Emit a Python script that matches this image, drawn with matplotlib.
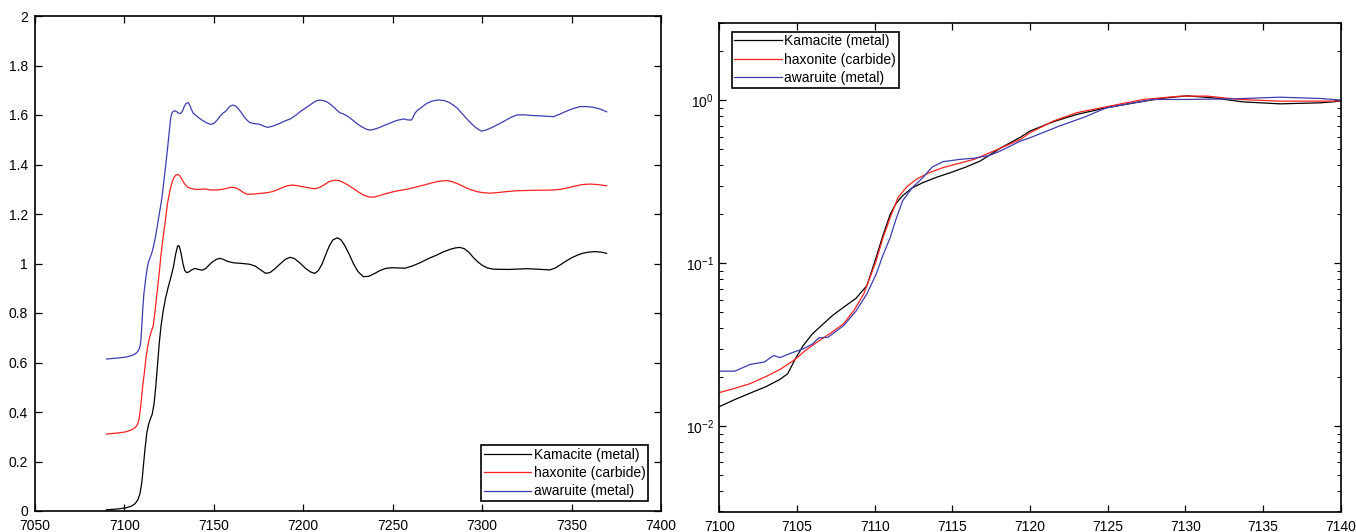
import matplotlib
matplotlib.use("Agg")
import matplotlib.pyplot as plt
from matplotlib.ticker import ScalarFormatter
from matplotlib import font_manager

# ---------------- data ----------------
series_names = ["Kamacite (metal)", "haxonite (carbide)", "awaruite (metal)"]
series_colors = ["#000000", "#ff2020", "#3c3cb0"]

# Left panel: stacked spectra (values as plotted)
kam_x = [7090, 7096, 7101, 7104, 7106, 7107.5, 7108.7, 7109.8, 7110.7, 7111.5, 7112.5, 7113.5, 7114.5,
         7115.5, 7116.5, 7117.5, 7118.5, 7119.5, 7120.5, 7121.7, 7123, 7124.5, 7126, 7127.5, 7128.7,
         7129.8, 7130.7, 7131.7, 7132.7, 7133.7, 7134.8, 7136, 7137.5, 7139.5, 7141.5, 7143.5, 7145.5,
         7147.5, 7149.5, 7151.5, 7153.5, 7155.5, 7157.5, 7160.9, 7166, 7170, 7173, 7176, 7179, 7181.5,
         7184, 7187, 7190, 7192.6, 7195, 7198, 7201, 7204, 7206.5, 7208.5, 7210.5, 7212.5, 7214.5,
         7216.5, 7219, 7221, 7223, 7225.5, 7228, 7230.5, 7233.5, 7236.5, 7239.5, 7243, 7246, 7249.4,
         7253, 7256.9, 7261, 7265.3, 7270, 7274.6, 7278, 7282, 7285, 7287.5, 7290, 7292.5, 7295,
         7297.5, 7300, 7303, 7306.2, 7315, 7324.9, 7331, 7337.9, 7341, 7344, 7347, 7350, 7353, 7356,
         7359.5, 7363.1, 7366.5, 7369.6]
kam_y = [0.005, 0.008, 0.013, 0.02, 0.03, 0.045, 0.07, 0.12, 0.19, 0.25, 0.315, 0.35, 0.372,
         0.39, 0.43, 0.50, 0.59, 0.68, 0.75, 0.81, 0.86, 0.905, 0.945, 0.99, 1.04,
         1.072, 1.07, 1.04, 1.0, 0.972, 0.963, 0.966, 0.974, 0.98, 0.976, 0.973, 0.98,
         0.995, 1.008, 1.017, 1.021, 1.016, 1.009, 1.003, 1.0, 0.997, 0.99, 0.975, 0.96, 0.964,
         0.978, 0.998, 1.017, 1.025, 1.02, 1.003, 0.982, 0.966, 0.96, 0.972, 0.998, 1.035, 1.07,
         1.095, 1.104, 1.096, 1.075, 1.04, 1.0, 0.968, 0.947, 0.948, 0.958, 0.972, 0.98, 0.983,
         0.982, 0.981, 0.99, 1.003, 1.02, 1.034, 1.046, 1.057, 1.063, 1.065, 1.06, 1.046, 1.025,
         1.007, 0.993, 0.982, 0.977, 0.976, 0.979, 0.977, 0.974, 0.982, 0.996, 1.01, 1.023, 1.033, 1.041,
         1.046, 1.048, 1.046, 1.041]

hax_x = [7090, 7096, 7101, 7104, 7106, 7107.2, 7108.2, 7108.9, 7109.6, 7110.3, 7111.1, 7112, 7113,
         7114, 7115, 7116.1, 7117, 7118, 7119.3, 7120.5, 7121.7, 7122.7, 7124, 7125.5, 7126.5,
         7127.5, 7128.7, 7129.8, 7131, 7132.3, 7133.5, 7135, 7136.7, 7140, 7143, 7145, 7148, 7151.6,
         7154, 7156.2, 7158.5, 7160.5, 7162.5, 7164.5, 7166.5, 7168.4, 7171, 7174, 7177, 7179.6,
         7182.5, 7185, 7188, 7191, 7194, 7197, 7200, 7203.5, 7206.5, 7209, 7211.5, 7214.5, 7217.7,
         7220, 7222.5, 7225, 7228, 7231, 7234, 7237.3, 7240, 7243, 7246.5, 7250.3, 7254, 7258,
         7261.5, 7265.3, 7269, 7272.5, 7276.5, 7280.2, 7283, 7286, 7289, 7292, 7295, 7298, 7301,
         7304.4, 7308, 7313, 7319.3, 7325, 7330, 7335, 7339.8, 7344, 7348, 7352, 7356, 7360.3,
         7364.5, 7369.6]
hax_y = [0.311, 0.315, 0.32, 0.328, 0.337, 0.348, 0.37, 0.41, 0.46, 0.51, 0.556, 0.615, 0.664,
         0.70, 0.725, 0.748, 0.80, 0.866, 0.95, 1.04, 1.11, 1.162, 1.24, 1.297, 1.325,
         1.345, 1.357, 1.360, 1.354, 1.338, 1.323, 1.31, 1.304, 1.299, 1.300, 1.301, 1.297, 1.297,
         1.299, 1.302, 1.306, 1.308, 1.305, 1.297, 1.287, 1.28, 1.280, 1.282, 1.284, 1.286,
         1.29, 1.296, 1.306, 1.314, 1.317, 1.314, 1.31, 1.305, 1.302, 1.307, 1.317, 1.331, 1.337,
         1.335, 1.327, 1.317, 1.303, 1.288, 1.275, 1.268, 1.269, 1.275, 1.283, 1.29, 1.295, 1.30,
         1.306, 1.313, 1.32, 1.327, 1.333, 1.335, 1.331, 1.323, 1.313, 1.303, 1.295, 1.289, 1.286,
         1.284, 1.286, 1.29, 1.294, 1.295, 1.296, 1.296, 1.297, 1.300, 1.306, 1.313, 1.319, 1.321,
         1.319, 1.314]

awa_x = [7090, 7096, 7101, 7104, 7105.9, 7107.3, 7108.3, 7108.9, 7109.3, 7109.7, 7110.3, 7110.9,
         7111.5, 7112.1, 7112.7, 7113.4, 7114.3, 7115.2, 7116, 7116.9, 7118, 7119.5, 7120.8, 7122,
         7123, 7123.9, 7125, 7125.8, 7126.5, 7127.3, 7128.3, 7129.5, 7130.6, 7131.6, 7132.6, 7133.5,
         7134.5, 7135.7, 7136.7, 7137.6, 7138.5, 7140.5, 7143.2, 7146, 7148.4, 7150, 7151.7, 7153.5,
         7155, 7156.2, 7157.5, 7158.8, 7160.5, 7162, 7163.5, 7165, 7166.5, 7168, 7170, 7172, 7175.8,
         7178, 7179.9, 7182, 7184, 7186.5, 7188.8, 7193, 7196, 7198.2, 7201, 7203.5, 7206, 7208,
         7209.3, 7211, 7213, 7215, 7217, 7219, 7220.5, 7222.5, 7225, 7227.5, 7230, 7233, 7235.5,
         7237.3, 7239.5, 7242, 7247, 7252.2, 7256, 7258.5, 7260.6, 7261.5, 7262.5, 7264, 7266, 7269,
         7272, 7275.5, 7279, 7281.5, 7283.9, 7286, 7288, 7290, 7292, 7294, 7296, 7298, 7299.7, 7302,
         7304.4, 7307, 7310, 7313, 7316, 7319.3, 7323, 7328, 7334, 7339.8, 7343, 7346, 7350, 7354.7,
         7358.5, 7362.2, 7366, 7369.6]
awa_y = [0.614, 0.618, 0.622, 0.628, 0.634, 0.643, 0.655, 0.672, 0.70, 0.745, 0.82, 0.88,
         0.915, 0.95, 0.98, 1.005, 1.022, 1.040, 1.062, 1.09, 1.135, 1.20, 1.257, 1.33,
         1.395, 1.45, 1.53, 1.585, 1.607, 1.615, 1.617, 1.612, 1.606, 1.607, 1.618, 1.635,
         1.647, 1.650, 1.637, 1.62, 1.607, 1.595, 1.580, 1.568, 1.562, 1.566, 1.578, 1.596,
         1.607, 1.613, 1.623, 1.634, 1.640, 1.637, 1.627, 1.613, 1.597, 1.583, 1.570, 1.566, 1.562,
         1.555, 1.550, 1.553, 1.558, 1.565, 1.573, 1.585, 1.600, 1.613, 1.627, 1.64, 1.652, 1.659,
         1.660, 1.659, 1.654, 1.644, 1.632, 1.618, 1.609, 1.604, 1.594, 1.58, 1.565, 1.551, 1.542,
         1.539, 1.542, 1.548, 1.563, 1.578, 1.584, 1.580, 1.580, 1.593, 1.608, 1.62, 1.630, 1.647,
         1.656, 1.661, 1.658, 1.651, 1.640, 1.628, 1.612, 1.596, 1.58, 1.565, 1.552, 1.541, 1.535, 1.539,
         1.546, 1.555, 1.566, 1.578, 1.59, 1.600, 1.601, 1.598, 1.596, 1.593, 1.602, 1.612, 1.624, 1.634,
         1.634, 1.631, 1.624, 1.613]

# Right panel: edge region, log scale
kam_edge_x = [7100, 7101, 7102, 7103, 7103.9, 7104.4, 7104.9, 7105.4, 7106, 7106.7, 7107.3, 7108,
              7108.8, 7109.5, 7110.1, 7110.5, 7111, 7111.4, 7111.8, 7112.4, 7113.1, 7114, 7114.9,
              7115.9, 7116.8, 7118.1, 7119.4, 7120, 7121.5, 7123, 7124.9, 7126.7, 7128.4, 7130.1,
              7131.8, 7133.7, 7136.1, 7138.7, 7140]
kam_edge_y = [0.0132, 0.0146, 0.016, 0.0175, 0.0194, 0.021, 0.026, 0.0313, 0.037, 0.0426, 0.048, 0.0538,
              0.061, 0.073, 0.109, 0.145, 0.20, 0.235, 0.260, 0.29, 0.313, 0.338, 0.361,
              0.391, 0.425, 0.51, 0.596, 0.649, 0.74, 0.82, 0.901, 0.966, 1.028, 1.067,
              1.037, 0.98, 0.953, 0.967, 0.99]

hax_edge_x = [7100, 7101, 7102, 7103, 7103.9, 7104.8, 7105.5, 7106.3, 7107.2, 7108, 7108.7, 7109.3,
              7109.7, 7110.1, 7110.5, 7111, 7111.5, 7112.1, 7112.7, 7113.5, 7114.4, 7116.4, 7117.9,
              7119.4, 7120, 7121.5, 7123, 7124.9, 7127.3, 7129.7, 7131.4, 7133.5, 7136.1, 7140]
hax_edge_y = [0.0161, 0.0171, 0.0183, 0.0202, 0.0223, 0.0254, 0.029, 0.0329, 0.0375, 0.0426, 0.052, 0.065,
              0.082, 0.104, 0.14, 0.191, 0.253, 0.297, 0.329, 0.36, 0.387, 0.435, 0.50,
              0.577, 0.634, 0.747, 0.84, 0.914, 1.014, 1.063, 1.063, 1.014, 0.99, 0.99]

awa_edge_x = [7100, 7101, 7102, 7102.9, 7103.5, 7103.9, 7104.6, 7105.4, 7106, 7106.4, 7107, 7108,
              7108.8, 7109.5, 7110.1, 7110.5, 7111, 7111.4, 7111.8, 7112.4, 7113.1, 7113.7, 7114.4,
              7115.5, 7116.4, 7117.4, 7118.1, 7119.4, 7120, 7121.9, 7123.5, 7124.9, 7126.5, 7127.9,
              7130.1, 7133.1, 7136.1, 7138.7, 7140]
awa_edge_y = [0.0218, 0.0218, 0.024, 0.0248, 0.0272, 0.0264, 0.0281, 0.0299, 0.032, 0.0349, 0.0352, 0.0415,
              0.051, 0.065, 0.086, 0.11, 0.144, 0.19, 0.242, 0.29, 0.336, 0.39, 0.421,
              0.435, 0.442, 0.46, 0.49, 0.564, 0.59, 0.697, 0.79, 0.90, 0.96, 1.014,
              1.014, 1.023, 1.047, 1.028, 1.004]

left_xticks = [7050, 7100, 7150, 7200, 7250, 7300, 7350, 7400]
left_yticks = [0, 0.2, 0.4, 0.6, 0.8, 1.0, 1.2, 1.4, 1.6, 1.8, 2.0]
left_yticklabels = ["0", "0.2", "0.4", "0.6", "0.8", "1", "1.2", "1.4", "1.6", "1.8", "2"]
right_xticks = [7100, 7105, 7110, 7115, 7120, 7125, 7130, 7135, 7140]

# ---------------- style ----------------
names = {f.name for f in font_manager.fontManager.ttflist}
fam = "Liberation Sans Narrow" if "Liberation Sans Narrow" in names else "Liberation Sans"
plt.rcParams["font.family"] = [fam, "DejaVu Sans"]
plt.rcParams["mathtext.fontset"] = "custom"
plt.rcParams["mathtext.rm"] = fam
plt.rcParams["mathtext.it"] = fam
plt.rcParams["mathtext.default"] = "regular"
plt.rcParams["font.size"] = 10
plt.rcParams["axes.linewidth"] = 1.2

fig = plt.figure(figsize=(13.56, 5.32), dpi=100)
W, H = 1356, 532
ax1 = fig.add_axes([35 / W, (H - 511) / H, (661 - 35) / W, (511 - 16) / H])
ax2 = fig.add_axes([719.3 / W, (H - 511.5) / H, (1340.7 - 719.3) / W, (511.5 - 22.7) / H])

lw = 0.9
left_data = [(kam_x, kam_y), (hax_x, hax_y), (awa_x, awa_y)]
right_data = [(kam_edge_x, kam_edge_y), (hax_edge_x, hax_edge_y), (awa_edge_x, awa_edge_y)]
for (x, y), c, n in zip(left_data, series_colors, series_names):
    ax1.plot(x, y, color=c, lw=lw, label=n)
for (x, y), c, n in zip(right_data, series_colors, series_names):
    ax2.plot(x, y, color=c, lw=lw, label=n)

ax1.set_xlim(7050, 7400)
ax1.set_ylim(0, 2)
ax1.set_xticks(left_xticks)
ax1.set_yticks(left_yticks)
ax1.set_yticklabels(left_yticklabels)

ax2.set_yscale("log")
ax2.set_xlim(7100, 7140)
ax2.set_ylim(3e-3, 3)
ax2.set_xticks(right_xticks)
fmt = ScalarFormatter(useOffset=False)
ax2.xaxis.set_major_formatter(fmt)

for ax in (ax1, ax2):
    ax.tick_params(which="major", direction="in", top=True, right=True, length=5, width=0.9,
                   labelsize=10, pad=6)
    ax.tick_params(which="minor", direction="in", top=True, right=True, length=3, width=0.7)
ax1.tick_params(axis="y", pad=5)
ax2.tick_params(axis="y", pad=4)

legkw = dict(frameon=True, fancybox=False, framealpha=1, edgecolor="black", fontsize=10,
             borderpad=0.18, handlelength=3.4, handletextpad=0.2, labelspacing=0.32,
             borderaxespad=0)
leg1 = ax1.legend(loc="lower right", bbox_to_anchor=(648 / W, (H - 501) / H),
                  bbox_transform=fig.transFigure, **legkw)
leg2 = ax2.legend(loc="upper left", bbox_to_anchor=(732 / W, (H - 31.7) / H),
                  bbox_transform=fig.transFigure, **legkw)
for leg in (leg1, leg2):
    leg.get_frame().set_linewidth(1.2)

fig.savefig("out.png", dpi=100)
